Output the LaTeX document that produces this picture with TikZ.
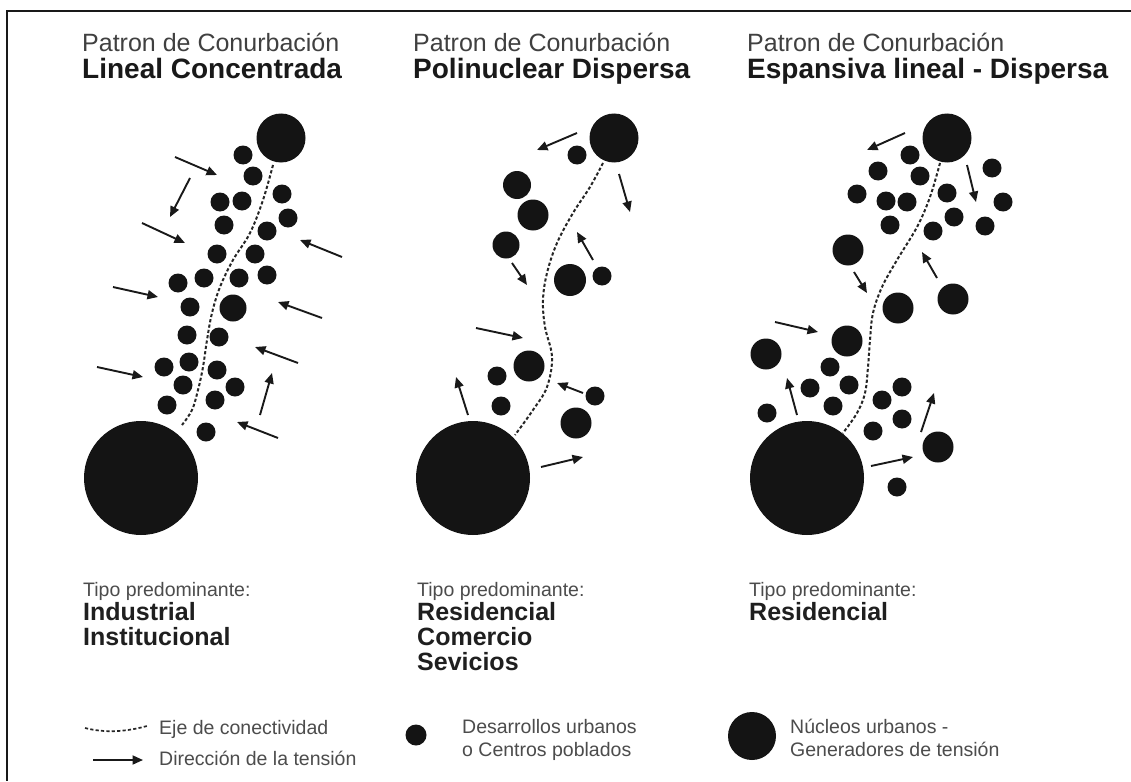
\documentclass[tikz,border=0pt]{standalone}
\usepackage{fontspec}
\setmainfont{Liberation Sans}
\usetikzlibrary{arrows.meta}
\newcommand\tens[3]{\coordinate (#1s) at #2; \coordinate (#1e) at #3; \draw[tensarrow] (#1s) -- (#1e);}
\begin{document}
\begin{tikzpicture}[x=1pt,y=-1pt,
  dot/.style={circle, fill=black!92, draw=none, inner sep=0pt, minimum size=19pt},
  mid/.style={dot, minimum size=30pt},
  hub/.style={dot, minimum size=49pt},
  big/.style={dot, minimum size=114pt},
  axis/.style={line width=2pt, dash pattern=on 3.2pt off 2.2pt, black!85},
  tensarrow/.style={line width=1.9pt, black!90, -{Triangle[length=10.5pt,width=9pt]}},
  ttl/.style={anchor=base west, inner sep=0pt, text=black!75, font=\fontsize{25}{30}\selectfont},
  ttlb/.style={anchor=base west, inner sep=0pt, text=black!90, font=\fontsize{28}{34}\selectfont\bfseries},
  tipo/.style={anchor=base west, inner sep=0pt, text=black!70, font=\fontsize{19.5}{24}\selectfont},
  tipob/.style={anchor=base west, inner sep=0pt, text=black!88, font=\fontsize{25}{30}\selectfont\bfseries},
  leg/.style={anchor=base west, inner sep=0pt, text=black!70, font=\fontsize{19.5}{24}\selectfont}
]
\useasboundingbox (0,0) rectangle (1131,781);
\fill[white] (0,0) rectangle (1131,781);
% frame
\coordinate (fa) at (1131,11); \coordinate (fb) at (7,11); \coordinate (fc) at (7,781);
\draw[line width=2pt, black!90] (fa) -- (fb) -- (fc);

% titles
\node[ttl] (h1a) at (82,52) {Patron de Conurbación};
\node[ttlb] (h1b) at (82,79) {Lineal Concentrada};
\node[ttl] (h2a) at (413,52) {Patron de Conurbación};
\node[ttlb] (h2b) at (413,79) {Polinuclear Dispersa};
\node[ttl] (h3a) at (747,52) {Patron de Conurbación};
\node[ttlb] (h3b) at (747,79) {Espansiva lineal - Dispersa};

% ---------- panel 1 ----------
\draw[axis] plot[smooth, tension=0.6] coordinates {(273,165) (263,200) (250,233) (233,260) (220,287) (212,313) (207,340) (203,367) (198,390) (192,410) (182,425)};
\node[hub] (p1top) at (281,138) {};
\node[big] (p1big) at (141,478) {};
\foreach \x/\y [count=\i] in {243/155,253/176,282/194,220/202,242/201,288/218,224/225,267/231,217/254,255/254,178/283,204/278,239/278,267/275,190/307,187/335,219/337,164/367,189/362,217/370,183/385,235/387,167/405,215/400,206/432}
  \node[dot] (p1d\i) at (\x,\y) {};
\node[dot, minimum size=27pt] (p1m1) at (233,308) {};
\tens{a1}{(175,157)}{(217,175)}
\tens{a2}{(190,178)}{(170,217)}
\tens{a3}{(142,223)}{(185,243)}
\tens{a4}{(342,257)}{(300,240)}
\tens{a5}{(113,287)}{(158,297)}
\tens{a6}{(322,318)}{(278,302)}
\tens{a7}{(97,367)}{(143,377)}
\tens{a8}{(298,363)}{(255,347)}
\tens{a9}{(260,415)}{(272,373)}
\tens{a10}{(278,438)}{(237,422)}

% ---------- panel 2 ----------
\draw[axis] plot[smooth, tension=0.6] coordinates {(603,163) (590,187) (573,213) (557,243) (547,273) (543,300) (545,327) (552,357) (547,387) (533,410) (515,435)};
\node[hub] (p2top) at (614,138) {};
\node[big] (p2big) at (473,478) {};
\foreach \x/\y [count=\i] in {577/155,602/276,497/376,501/406,595/396}
  \node[dot] (p2d\i) at (\x,\y) {};
\foreach \x/\y/\s [count=\i] in {517/185/28,533/215/31,506/245/27,570/280/32,529/366/31,576/423/31}
  \node[mid, minimum size=\s pt] (p2m\i) at (\x,\y) {};
\tens{b1}{(577,133)}{(537,150)}
\tens{b2}{(619,174)}{(630,212)}
\tens{b3}{(593,260)}{(577,232)}
\tens{b4}{(512,263)}{(527,285)}
\tens{b5}{(476,328)}{(523,338)}
\tens{b6}{(468,415)}{(456,377)}
\tens{b7}{(583,393)}{(557,383)}
\tens{b8}{(541,467)}{(583,457)}

% ---------- panel 3 ----------
\draw[axis] plot[smooth, tension=0.6] coordinates {(940,163) (930,197) (917,227) (897,260) (882,287) (873,313) (870,340) (868,367) (865,393) (857,413) (843,433)};
\node[hub] (p3top) at (947,138) {};
\node[big] (p3big) at (807,478) {};
\foreach \x/\y [count=\i] in {910/155,878/171,920/176,992/168,857/194,886/201,907/202,947/193,1003/202,890/225,933/231,954/217,985/226,830/367,810/388,849/385,833/406,767/413,902/387,882/400,902/419,873/431,897/487}
  \node[dot] (p3d\i) at (\x,\y) {};
\foreach \x/\y [count=\i] in {848/250,953/299,898/308,847/341,766/354,938/447}
  \node[mid, minimum size=31pt] (p3m\i) at (\x,\y) {};
\tens{c1}{(905,133)}{(867,150)}
\tens{c2}{(967,165)}{(976,202)}
\tens{c3}{(937,278)}{(922,252)}
\tens{c4}{(854,272)}{(867,293)}
\tens{c5}{(775,322)}{(818,332)}
\tens{c6}{(797,415)}{(787,378)}
\tens{c7}{(921,432)}{(934,393)}
\tens{c8}{(871,466)}{(913,457)}

% ---------- tipo predominante ----------
\node[tipo] (t1) at (83,596) {Tipo predominante:};
\node[tipob] (t1a) at (83,620) {Industrial};
\node[tipob] (t1b) at (83,645) {Institucional};
\node[tipo] (t2) at (417,596) {Tipo predominante:};
\node[tipob] (t2a) at (417,620) {Residencial};
\node[tipob] (t2b) at (417,645) {Comercio};
\node[tipob] (t2c) at (417,670) {Sevicios};
\node[tipo] (t3) at (749,596) {Tipo predominante:};
\node[tipob] (t3a) at (749,620) {Residencial};

% ---------- legend ----------
\coordinate (l1s) at (85,728); \coordinate (l1e) at (147,726);
\draw[axis, line width=1.7pt] (l1s) .. controls (105,733) and (125,732) .. (l1e);
\node[leg] (l1) at (159,734) {Eje de conectividad};
\tens{l2}{(93,760)}{(143,760)}
\node[leg] (l2) at (159,765) {Dirección de la tensión};
\node[dot, minimum size=21pt] (l3d) at (416,735) {};
\node[leg] (l3a) at (462,733) {Desarrollos urbanos};
\node[leg] (l3b) at (462,756) {o Centros poblados};
\node[dot, minimum size=48pt] (l4d) at (752,736) {};
\node[leg] (l4a) at (790,733) {Núcleos urbanos -};
\node[leg] (l4b) at (790,756) {Generadores de tensión};
\end{tikzpicture}
\end{document}
